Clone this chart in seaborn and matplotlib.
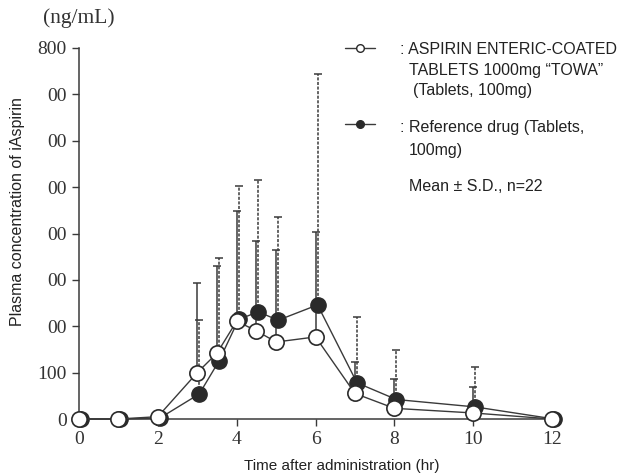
import numpy as np
import pandas as pd
import matplotlib
matplotlib.use("Agg")
import matplotlib.pyplot as plt
import matplotlib.transforms as mtransforms
from matplotlib.lines import Line2D
import seaborn as sns

# ---- data ----
time = [0, 1, 2, 3, 3.5, 4, 4.5, 5, 6, 7, 8, 10, 12]
test_mean = [0, 0, 5, 100, 142, 211, 190, 166, 177, 55, 23, 13, 0]
test_sd = [0, 0, 0, 193, 188, 237, 194, 198, 226, 68, 63, 55, 0]
ref_mean = [0, 0, 2, 54, 125, 215, 231, 213, 246, 78, 42, 26, 0]
ref_sd = [0, 0, 0, 159, 222, 287, 284, 222, 497, 141, 107, 86, 0]

x_ticks = [0, 2, 4, 6, 8, 10, 12]
y_ticks = [0, 100, 200, 300, 400, 500, 600, 700, 800]
y_ticklabels = ["0", "100", "00", "00", "00", "00", "00", "00", "800"]

sns.set_style("ticks")
plt.rcParams["font.family"] = ["Liberation Sans", "DejaVu Sans"]

W, H = 623, 476
fig = plt.figure(figsize=(W / 100, H / 100), dpi=100)
ax = fig.add_axes([79 / W, 57 / H, 481 / W, 371 / H])

df = pd.DataFrame({
    "time": time * 2,
    "conc": test_mean + ref_mean,
    "sd": test_sd + ref_sd,
    "group": ["test"] * len(time) + ["ref"] * len(time),
})

lc = "#3a3a3a"
shift = mtransforms.ScaledTranslation(2 / 100, 0, fig.dpi_scale_trans)

# error bars (upper only)
for grp, ls, tr in [("ref", (0, (2, 1)), ax.transData + shift), ("test", "-", ax.transData)]:
    d = df[(df.group == grp) & (df.sd > 0)]
    eb = ax.errorbar(d.time, d.conc, yerr=[np.zeros(len(d)), d.sd], fmt="none",
                     ecolor=lc, elinewidth=1.1, capsize=3, capthick=1.1,
                     zorder=2, transform=tr)
    for c in eb[2]:
        c.set_linestyle(ls)
        c.set_transform(tr)
    for c in eb[1]:
        c.set_transform(tr)

d_ref = df[df.group == "ref"]
d_test = df[df.group == "test"]
sns.lineplot(data=d_ref, x="time", y="conc", ax=ax, color=lc, linewidth=1.0,
             marker="o", markersize=11, markerfacecolor="#2a2a2a",
             markeredgecolor="#2a2a2a", markeredgewidth=1.0, zorder=3,
             clip_on=False, transform=ax.transData + shift)
sns.lineplot(data=d_test, x="time", y="conc", ax=ax, color=lc, linewidth=1.0,
             marker="o", markersize=11, markerfacecolor="white",
             markeredgecolor="#2a2a2a", markeredgewidth=1.2, zorder=4,
             clip_on=False)

ax.set_xlim(0, 12.2)
ax.set_ylim(0, 800)
ax.set_xticks(x_ticks)
ax.set_xticklabels([str(t) for t in x_ticks], family="Liberation Serif", fontsize=14, color="#333333")
ax.set_yticks(y_ticks)
ax.set_yticklabels(y_ticklabels, family="Liberation Serif", fontsize=14, color="#333333")
ax.tick_params(direction="out", length=5, width=1.0, color=lc, pad=4)
for s in ["top", "right"]:
    ax.spines[s].set_visible(False)
for s in ["left", "bottom"]:
    ax.spines[s].set_color(lc)
    ax.spines[s].set_linewidth(1.1)

ax.set_xlabel("")
ax.set_ylabel("")
fig.text(342 / W, 1 - 466 / H, "Time after administration (hr)", ha="center", va="center",
         fontsize=11, color="#222222")
fig.text(18 / W, 1 - 212 / H, "Plasma concentration of iAspirin", ha="center", va="center",
         rotation=90, fontsize=11.5, color="#222222")
fig.text(43 / W, 1 - 18 / H, "(ng/mL)", ha="left", va="center", family="Liberation Serif",
         fontsize=15.5, color="#333333")

# legend
def fx(p):
    return p / W

def fy(p):
    return 1 - p / H

for yy, fc in [(48, "white"), (124, "#2a2a2a")]:
    fig.add_artist(Line2D([fx(345), fx(375)], [fy(yy), fy(yy)], color=lc, linewidth=1.0,
                          marker=None))
    fig.add_artist(Line2D([fx(360)], [fy(yy)], color=lc, marker="o", markersize=5.5,
                          markerfacecolor=fc, markeredgecolor="#2a2a2a", markeredgewidth=1.0))

txt_kw = dict(ha="left", va="center", fontsize=11.5, color="#222222")
fig.text(fx(400), fy(49), ": ASPIRIN ENTERIC-COATED", **txt_kw)
fig.text(fx(409), fy(71), "TABLETS 1000mg \u201cTOWA\u201d", **txt_kw)
fig.text(fx(413), fy(90), "(Tablets, 100mg)", **txt_kw)
fig.text(fx(400), fy(128), ": Reference drug (Tablets,", **txt_kw)
fig.text(fx(409), fy(150), "100mg)", **txt_kw)
fig.text(fx(409), fy(187), "Mean \u00b1 S.D., n=22", **txt_kw)

fig.savefig("out.png", dpi=100)
